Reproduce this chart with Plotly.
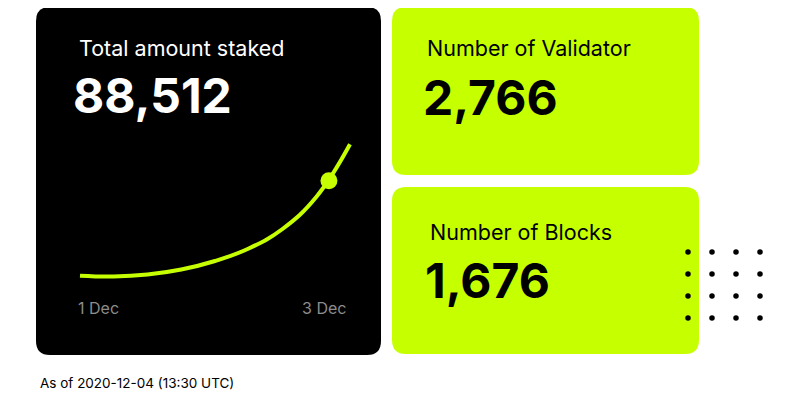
import plotly.graph_objects as go

# staking curve (days since 1 Dec) and highlighted point
days = [0, 0.25, 0.5, 0.75, 1.0, 1.25, 1.5, 1.75, 2.0]
staked = [61270, 61085, 61545, 62695, 64650, 67525, 72010, 79370, 91490]
highlight_day = [1.844]
highlight_staked = [83120]
tick_days = [0, 2]
tick_labels = ["1 Dec", "3 Dec"]

card_titles = ["Total amount staked", "Number of Validator", "Number of Blocks"]
card_values = ["88,512", "2,766", "1,676"]
footnote = "As of 2020-12-04 (13:30 UTC)"

dot_cols = [0, 1, 2, 3]
dot_rows = [0, 1, 2, 3]

LIME = "#c6ff00"
W, H = 800, 400
OFF = 8  # page body margin


def px(x):
    return (x - OFF) / W


def py(y):
    return 1 - (y - OFF) / H


def rounded_rect(x0, y0, x1, y1, r=14):
    # pixel box -> paper path with rounded corners
    rx, ry = r / W, r / H
    a, b, c, d = px(x0), py(y1), px(x1), py(y0)
    return (f"M {a+rx},{b} L {c-rx},{b} Q {c},{b} {c},{b+ry} "
            f"L {c},{d-ry} Q {c},{d} {c-rx},{d} L {a+rx},{d} "
            f"Q {a},{d} {a},{d-ry} L {a},{b+ry} Q {a},{b} {a+rx},{b} Z")


fig = go.Figure()

fig.add_trace(go.Scatter(
    x=days, y=staked, mode="lines",
    line=dict(color=LIME, width=4, shape="spline", smoothing=1.2),
    hoverinfo="skip", xaxis="x", yaxis="y"
))
fig.add_trace(go.Scatter(
    x=highlight_day, y=highlight_staked, mode="markers",
    marker=dict(color=LIME, size=17), cliponaxis=False,
    hoverinfo="skip", xaxis="x", yaxis="y"
))

gx = [c for r in dot_rows for c in dot_cols]
gy = [r for r in dot_rows for c in dot_cols]
fig.add_trace(go.Scatter(
    x=gx, y=gy, mode="markers",
    marker=dict(color="black", size=5.5), cliponaxis=False,
    hoverinfo="skip", xaxis="x2", yaxis="y2"
))

shapes = [
    dict(type="path", path=rounded_rect(36, 7, 381, 355), fillcolor="black",
         line=dict(width=0), xref="paper", yref="paper", layer="below"),
    dict(type="path", path=rounded_rect(392, 7, 699, 175), fillcolor=LIME,
         line=dict(width=0), xref="paper", yref="paper", layer="below"),
    dict(type="path", path=rounded_rect(392, 187, 699, 354), fillcolor=LIME,
         line=dict(width=0), xref="paper", yref="paper", layer="below"),
]

annotations = []
title_pos = [(77, 48, "white"), (425, 48, "black"), (428, 232, "black")]
value_pos = [(71, 96, "white"), (421, 97, "black"), (423, 280, "black")]
for t, v, (tx, ty, tc), (vx, vy, vc) in zip(card_titles, card_values, title_pos, value_pos):
    annotations.append(dict(text=t, x=px(tx), y=py(ty), xref="paper", yref="paper",
                            xanchor="left", yanchor="middle", showarrow=False,
                            font=dict(family="Inter", size=21.5, color=tc)))
    annotations.append(dict(text=f"<b>{v}</b>", x=px(vx), y=py(vy), xref="paper", yref="paper",
                            xanchor="left", yanchor="middle", showarrow=False,
                            font=dict(family="Inter", size=48, color=vc)))

for d, lab, anchor, shift in zip(tick_days, tick_labels, ["left", "right"], [-4, -2]):
    annotations.append(dict(text=lab, x=d, y=py(308), xref="x", yref="paper",
                            xanchor=anchor, yanchor="middle", showarrow=False,
                            xshift=shift,
                            font=dict(family="Inter", size=16, color="#8c8c8c")))

annotations.append(dict(text=footnote, x=px(38), y=py(383), xref="paper", yref="paper",
                        xanchor="left", yanchor="middle", showarrow=False,
                        font=dict(family="Inter", size=13.5, color="black")))

hidden = dict(visible=False, showgrid=False, zeroline=False, fixedrange=True)

fig.update_layout(
    width=W, height=H,
    margin=dict(l=0, r=0, t=0, b=0),
    paper_bgcolor="white", plot_bgcolor="rgba(0,0,0,0)",
    showlegend=False,
    shapes=shapes, annotations=annotations,
    xaxis=dict(domain=[px(75), px(355)], range=[-5 / 135, 2 + 5 / 135], **hidden),
    yaxis=dict(domain=[py(290), py(130)], range=[57980, 94780], **hidden),
    xaxis2=dict(domain=[px(688), px(760)], range=[0, 3], anchor="y2", **hidden),
    yaxis2=dict(domain=[py(318), py(252)], range=[3, 0], anchor="x2", **hidden),
)

fig.write_html("out.html")
